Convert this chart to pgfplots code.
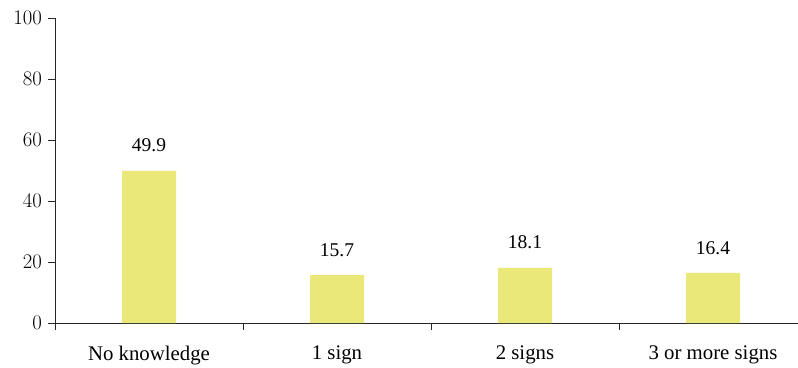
\documentclass[border=0pt]{standalone}
\usepackage{pgfplots}
\pgfplotsset{compat=1.18}
\usepackage{fontspec}
\setmainfont{Liberation Serif}
\definecolor{barfill}{HTML}{EBE87A}

\begin{document}
\fontsize{19.5}{23}\selectfont
\begin{tikzpicture}[x=1pt,y=1pt]
\begin{axis}[
  at={(55pt,44pt)}, anchor=south west,
  scale only axis,
  width=752pt, height=305pt,
  xmin=-0.5, xmax=3.5,
  ymin=0, ymax=100,
  axis x line*=bottom, axis y line*=left,
  axis line style={black!85, line width=0.9pt},
  ytick={0,20,40,60,80,100},
  tick align=outside,
  major tick length=6.5pt,
  tick style={black!85, line width=0.9pt},
  xtick={-0.5,0.5,1.5,2.5,3.5},
  x tick label as interval,
  xticklabels={No knowledge, 1 sign, 2 signs, 3 or more signs},
  xticklabel shift=10pt,
  yticklabel style={font=\fontsize{19.5}{23}\selectfont},
  xticklabel style={font=\fontsize{20.8}{24}\selectfont},
  ybar, bar width=54pt,
  nodes near coords,
  nodes near coords style={font=\fontsize{19.5}{23}\selectfont, yshift=12pt},
  every node near coord/.append style={/pgf/number format/fixed, /pgf/number format/precision=1, /pgf/number format/fixed zerofill, /pgf/number format/assume math mode=true},
]
\addplot[fill=barfill, draw=none] coordinates {(0,49.9) (1,15.7) (2,18.1) (3,16.4)};
\end{axis}
\pgfresetboundingbox
\path[use as bounding box] (0,0) rectangle (798pt,367pt);
\end{tikzpicture}
\end{document}
